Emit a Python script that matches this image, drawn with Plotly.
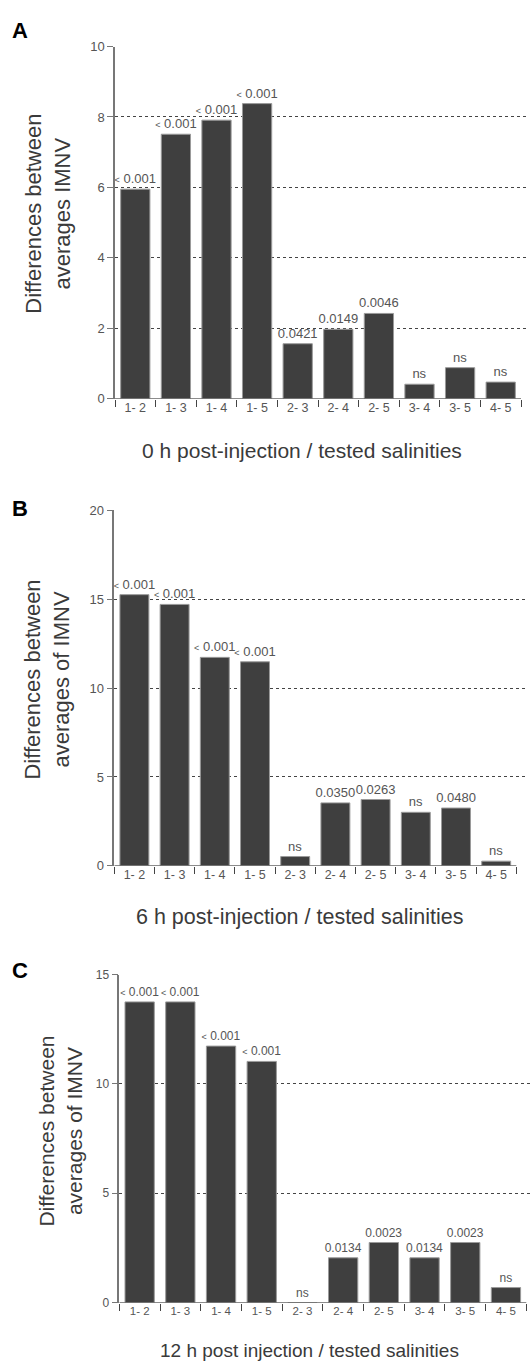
import plotly.graph_objects as go

pairs = ["1- 2", "1- 3", "1- 4", "1- 5", "2- 3", "2- 4", "2- 5", "3- 4", "3- 5", "4- 5"]

a_values = [5.95, 7.51, 7.91, 8.38, 1.56, 1.97, 2.42, 0.41, 0.88, 0.47]
a_pvalues = ["< 0.001", "< 0.001", "< 0.001", "< 0.001", "0.0421", "0.0149", "0.0046", "ns", "ns", "ns"]

b_values = [15.26, 14.71, 11.73, 11.48, 0.52, 3.54, 3.73, 3.01, 3.25, 0.26]
b_pvalues = ["< 0.001", "< 0.001", "< 0.001", "< 0.001", "ns", "0.0350", "0.0263", "ns", "0.0480", "ns"]

c_values = [13.75, 13.75, 11.73, 11.03, 0.0, 2.05, 2.75, 2.05, 2.75, 0.69]
c_pvalues = ["< 0.001", "< 0.001", "< 0.001", "< 0.001", "ns", "0.0134", "0.0023", "0.0134", "0.0023", "ns"]

W, H = 530, 1369
FONT = "Liberation Sans, Arial, sans-serif"


def fx(px):
    return px / W


def fy(py):
    return 1 - py / H


def fmt(p):
    if p.startswith("<"):
        return "<span style='font-size:9px'>&lt;</span>" + p[1:]
    return p


panels = [
    dict(vals=a_values, ps=a_pvalues, x0=115, x1=528, cw=40.6, ytop=40, ybot=396, ymax=10, dtick=2,
         lab_fs=13, tick_fs=12.5, ytick_fs=13,
         ytitle="Differences between<br>averages IMNV", yt_x=48, yt_y=209, yt_fs=22,
         xtitle="0 h post-injection / tested salinities", xt_x=302, xt_y=448, xt_fs=21,
         letter="A", l_y=24),
    dict(vals=b_values, ps=b_pvalues, x0=114.3, x1=528, cw=40.2, ytop=509, ybot=868.3, ymax=20, dtick=5,
         lab_fs=13, tick_fs=12.5, ytick_fs=13,
         ytitle="Differences between<br>averages of IMNV", yt_x=47, yt_y=680, yt_fs=22,
         xtitle="6 h post-injection / tested salinities", xt_x=299, xt_y=920, xt_fs=21.5,
         letter="B", l_y=507),
    dict(vals=c_values, ps=c_pvalues, x0=119.3, x1=530, cw=40.7, ytop=978.3, ybot=1310, ymax=15, dtick=5,
         lab_fs=12, tick_fs=11.5, ytick_fs=12,
         ytitle="Differences between<br>averages of IMNV", yt_x=60, yt_y=1137, yt_fs=21,
         xtitle="12 h post injection / tested salinities", xt_x=309, xt_y=1358, xt_fs=19,
         letter="C", l_y=974),
]

fig = go.Figure()
layout = dict(
    width=W, height=H, margin=dict(l=0, r=0, t=0, b=0),
    paper_bgcolor="white", plot_bgcolor="white", showlegend=False,
    font=dict(family=FONT, color="#555"),
    annotations=[], shapes=[],
)

for i, p in enumerate(panels, start=1):
    xa = "x" if i == 1 else f"x{i}"
    ya = "y" if i == 1 else f"y{i}"
    fig.add_trace(go.Bar(
        x=pairs, y=p["vals"], xaxis=xa, yaxis=ya, width=0.72,
        marker=dict(color="#3f3f3f", line=dict(color="#9a9a9a", width=1)),
        text=[fmt(s) for s in p["ps"]], textposition="outside", cliponaxis=False,
        constraintext="none",
        textfont=dict(family=FONT, size=p["lab_fs"], color="#555"),
        hoverinfo="skip",
    ))
    rng_end = -0.5 + (p["x1"] - p["x0"]) / p["cw"]
    layout["xaxis" if i == 1 else f"xaxis{i}"] = dict(
        domain=[fx(p["x0"]), fx(p["x1"])], anchor=ya, type="category",
        range=[-0.5, rng_end], showgrid=False, zeroline=False, showline=False,
        ticks="outside", tickson="boundaries", ticklen=7, tickcolor="#444", tickwidth=1,
        tickfont=dict(family=FONT, size=p["tick_fs"], color="#555"),
        fixedrange=True,
    )
    layout["yaxis" if i == 1 else f"yaxis{i}"] = dict(
        domain=[fy(p["ybot"]), fy(p["ytop"])], anchor=xa,
        range=[0, p["ymax"]], dtick=p["dtick"], tick0=0,
        showgrid=True, gridcolor="#444", griddash="3px,3px", gridwidth=1,
        zeroline=False, showline=True, linecolor="#777", linewidth=1.5,
        ticks="outside", ticklen=6, tickcolor="#777",
        tickfont=dict(family=FONT, size=p["ytick_fs"], color="#555"),
        fixedrange=True,
    )
    layout["shapes"].append(dict(
        type="line", xref=xa, yref=ya, x0=-0.5, x1=9.5, y0=0, y1=0,
        line=dict(color="#666", width=1.5), layer="above"))
    layout["annotations"] += [
        dict(text=p["ytitle"], textangle=-90, xref="paper", yref="paper",
             x=fx(p["yt_x"]), y=fy(p["yt_y"]), xanchor="center", yanchor="middle",
             showarrow=False, font=dict(family=FONT, size=p["yt_fs"], color="#3a3a3a")),
        dict(text=p["xtitle"], xref="paper", yref="paper",
             x=fx(p["xt_x"]), y=fy(p["xt_y"]), xanchor="center", yanchor="middle",
             showarrow=False, font=dict(family=FONT, size=p["xt_fs"], color="#3a3a3a")),
        dict(text="<b>" + p["letter"] + "</b>", xref="paper", yref="paper",
             x=fx(20), y=fy(p["l_y"]), xanchor="center", yanchor="middle",
             showarrow=False, font=dict(family=FONT, size=22, color="#000")),
    ]

fig.update_layout(**layout)
fig.write_html("out.html", config={"displayModeBar": False},
               post_script="document.body.style.margin='0px';")
